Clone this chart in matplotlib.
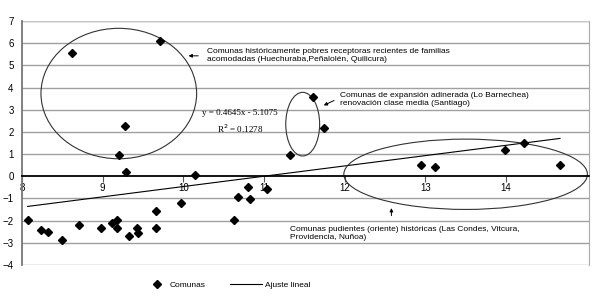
import numpy as np
import matplotlib.pyplot as plt
from matplotlib.patches import Ellipse

plt.rcParams['font.family'] = ['Liberation Sans', 'DejaVu Sans']

# data
comuna_x = [8.07, 8.24, 8.32, 8.49, 8.71, 8.98, 9.11, 9.18, 9.18, 9.33,
            9.43, 9.44, 9.66, 9.66, 9.97,
            10.63, 10.68, 10.80, 10.83, 11.04, 11.32,
            12.95, 13.12, 13.99, 14.23, 14.67,
            8.62, 9.71, 9.28, 9.20, 9.29, 10.15,
            11.61, 11.74]
comuna_y = [-1.95, -2.41, -2.53, -2.87, -2.20, -2.32, -2.10, -1.99, -2.34, -2.68,
            -2.31, -2.56, -1.55, -2.34, -1.22,
            -1.99, -0.94, -0.48, -1.03, -0.59, 0.95,
            0.50, 0.44, 1.18, 1.48, 0.51,
            5.57, 6.08, 2.26, 0.94, 0.21, 0.08,
            3.56, 2.16]

slope = 0.4645
intercept = -5.1075
r2 = 0.1278

x_ticks = [8, 9, 10, 11, 12, 13, 14]
y_ticks = [-4, -3, -2, -1, 0, 1, 2, 3, 4, 5, 6, 7]

fig = plt.figure(figsize=(6, 2.97), dpi=100)
ax = fig.add_axes([0.0367, 0.1077, 0.945, 0.8216])

ax.set_xlim(8, 15.03)
ax.set_ylim(-4, 7)

for v in y_ticks:
    if v == 0:
        continue
    ax.axhline(v, color='#a0a0a0', lw=1.0, zorder=0)

# trend line
xs = np.array([min(comuna_x), max(comuna_x)])
fit_line, = ax.plot(xs, slope * xs + intercept, color='black', lw=0.8, zorder=2)
pts, = ax.plot(comuna_x, comuna_y, 'D', color='black', ms=3.6, ls='none', zorder=3)

# circled groups
for cx, cy, w, h in [(9.20, 3.73, 1.93, 5.88), (11.48, 2.35, 0.42, 2.87), (13.50, 0.09, 3.02, 3.17)]:
    ax.add_patch(Ellipse((cx, cy), w, h, fill=False, ec='#333333', lw=0.8, zorder=2, clip_on=False))

# axes styling
ax.spines['left'].set_color('#777777')
ax.spines['left'].set_linewidth(1.3)
ax.spines['right'].set_color('#aaaaaa')
ax.spines['top'].set_visible(False)
ax.spines['bottom'].set_position(('data', 0))
ax.spines['bottom'].set_color('black')
ax.spines['bottom'].set_linewidth(1.3)
ax.axhline(7, color='#c8c8c8', lw=1.0, zorder=0)

ax.set_xticks(x_ticks)
ax.set_yticks(y_ticks)
ax.tick_params(axis='x', direction='out', length=4, width=0.8, labelsize=7, pad=1, color='#555555')
ax.tick_params(axis='y', length=0, labelsize=7, pad=6)

# annotations
ax.annotate('', xy=(10.03, 5.43), xytext=(10.22, 5.43),
            arrowprops=dict(arrowstyle='-|>', color='black', lw=0.7, mutation_scale=5))
ax.text(10.29, 5.45, 'Comunas históricamente pobres receptoras recientes de familias\n'
        'acomodadas (Huechuraba,Peñalolén, Quilicura)', fontsize=6, va='center', ha='left',
        linespacing=1.15)

ax.annotate('', xy=(11.71, 3.14), xytext=(11.90, 3.47),
            arrowprops=dict(arrowstyle='-|>', color='black', lw=0.7, mutation_scale=5))
ax.text(11.94, 3.46, 'Comunas de expansión adinerada (Lo Barnechea)\n'
        'renovación clase media (Santiago)', fontsize=6, va='center', ha='left',
        linespacing=1.15)

ax.annotate('', xy=(12.58, -1.31), xytext=(12.58, -1.9),
            arrowprops=dict(arrowstyle='-|>', color='black', lw=0.7, mutation_scale=5))
ax.text(11.32, -2.58, 'Comunas pudientes (oriente) históricas (Las Condes, Vitcura,\n'
        'Providencia, Nuñoa)', fontsize=6, va='center', ha='left', linespacing=1.15)

ax.text(10.70, 2.45, f'y = {slope}x - {abs(intercept)}\nR$^2$ = {r2}', fontsize=6.5,
        ha='center', va='center', family='Liberation Serif', linespacing=1.6)

fig.legend([pts], ['Comunas'], loc='center left', bbox_to_anchor=(152 / 600, 0.04),
           frameon=False, fontsize=6, handlelength=1.2, handletextpad=0.96,
           borderpad=0, borderaxespad=0)
fig.legend([fit_line], ['Ajuste lineal'], loc='center left', bbox_to_anchor=(230 / 600, 0.04),
           frameon=False, fontsize=6, handlelength=3.84, handletextpad=0.36,
           borderpad=0, borderaxespad=0)

fig.savefig('out.png', dpi=100)
